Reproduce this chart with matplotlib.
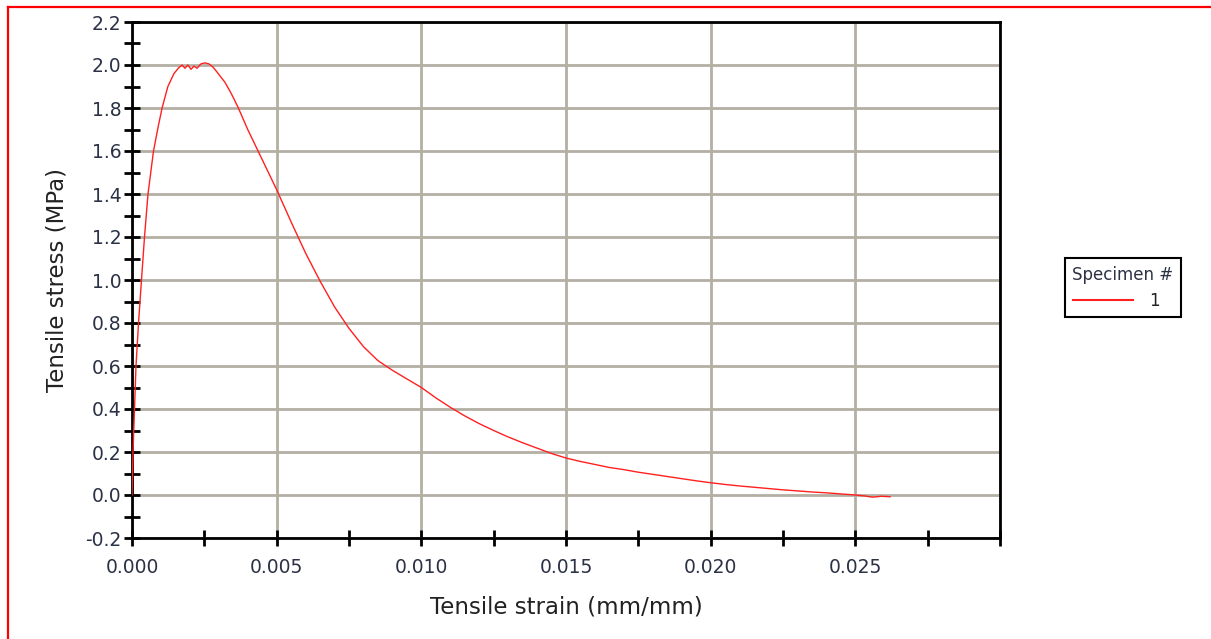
import matplotlib
matplotlib.use("Agg")
import matplotlib.pyplot as plt
from matplotlib.lines import Line2D
from matplotlib.ticker import MultipleLocator, FormatStrFormatter

plt.rcParams['font.family'] = ['DejaVu Sans']
plt.rcParams['axes.unicode_minus'] = False

# Specimen 1 stress-strain record
strain = [0.0, 0.0000346, 0.0000864, 0.000138, 0.000225, 0.000328, 0.000432,
          0.000553, 0.000743, 0.00090, 0.00104, 0.00124, 0.00145, 0.00160,
          0.00173, 0.00183, 0.00193, 0.00204, 0.00214, 0.00225, 0.00238,
          0.00252, 0.00266, 0.00280, 0.00294, 0.00321, 0.00342, 0.00366,
          0.0040, 0.0045, 0.0050, 0.0055, 0.0060, 0.0065, 0.0070, 0.0075,
          0.0080, 0.0085, 0.0090, 0.0095, 0.0100, 0.0105, 0.0110, 0.0115,
          0.0120, 0.0125, 0.0130, 0.0135, 0.0140, 0.0145, 0.0150, 0.0155,
          0.0160, 0.0165, 0.0170, 0.0175, 0.0180, 0.0185, 0.0190, 0.0195,
          0.0200, 0.0205, 0.0210, 0.0215, 0.0220, 0.0225, 0.0230, 0.0235,
          0.0240, 0.0245, 0.0250, 0.0253, 0.0256, 0.0259, 0.0262]
stress = [0.0, 0.2, 0.4, 0.6, 0.8, 1.0, 1.2,
          1.4, 1.6, 1.71, 1.8, 1.9, 1.96, 1.985,
          2.0, 1.985, 2.0, 1.98, 1.995, 1.985, 2.005,
          2.01, 2.005, 1.99, 1.967, 1.92, 1.87, 1.805,
          1.70, 1.56, 1.42, 1.27, 1.125, 0.995, 0.875, 0.775,
          0.69, 0.625, 0.58, 0.54, 0.50, 0.452, 0.408, 0.368,
          0.332, 0.30, 0.27, 0.243, 0.218, 0.193, 0.172, 0.156,
          0.142, 0.128, 0.118, 0.106, 0.096, 0.086, 0.076, 0.066,
          0.057, 0.049, 0.042, 0.036, 0.030, 0.024, 0.019, 0.014,
          0.010, 0.005, 0.0, -0.004, -0.010, -0.006, -0.008]

specimen_label = "1"
legend_title = "Specimen #"
x_label = "Tensile strain (mm/mm)"
y_label = "Tensile stress (MPa)"

W, H = 1211, 639
fig = plt.figure(figsize=(W / 100, H / 100), dpi=100)
ax = fig.add_axes([132 / W, 1 - 538 / H, (1000 - 132) / W, (538 - 22) / H])

grid_color = "#b3afa2"
tick_color = "#2b3245"

ax.plot(strain, stress, color="#ff2020", lw=1.0, zorder=3)

ax.set_xlim(0, 0.030)
ax.set_ylim(-0.2, 2.2)
ax.xaxis.set_major_locator(MultipleLocator(0.005))
ax.xaxis.set_minor_locator(MultipleLocator(0.0025))
ax.yaxis.set_major_locator(MultipleLocator(0.2))
ax.yaxis.set_minor_locator(MultipleLocator(0.1))
ax.yaxis.set_major_formatter(FormatStrFormatter('%.1f'))

ax.grid(True, which='major', color=grid_color, lw=2.0, zorder=0)
ax.set_axisbelow(True)

for sp in ax.spines.values():
    sp.set_color("black")
    sp.set_linewidth(2.0)

ax.tick_params(which='both', direction='inout', color='black', width=2.0,
               labelcolor=tick_color, labelsize=13.5)
ax.tick_params(which='both', length=11)
ax.tick_params(axis='x', which='major', pad=9)
ax.tick_params(axis='y', which='major', pad=2)

# x tick labels, leaving the right end unlabelled
xt = ax.get_xticks()
ax.set_xticks(xt)
ax.set_xticklabels([("" if t > 0.0299 else f"{t:.3f}") for t in xt])
ax.set_xlim(0, 0.030)

ax.set_xlabel(x_label, fontsize=16.5, color="#222222", labelpad=13)
ax.set_ylabel(y_label, fontsize=16.5, color="#222222", labelpad=12)

handle = Line2D([], [], color="#ff2020", lw=1.5)
leg = fig.legend([handle], [specimen_label], title=legend_title,
                 loc='upper left', bbox_to_anchor=(1065 / W, 1 - 258 / H),
                 borderaxespad=0, fontsize=12, title_fontsize=12,
                 fancybox=False, edgecolor='black', framealpha=1,
                 handlelength=3.6, handletextpad=1.0, borderpad=0.45,
                 alignment='left')
leg.get_frame().set_linewidth(1.5)
leg.get_title().set_color(tick_color)
for t in leg.get_texts():
    t.set_color("#222222")

# outer red frame
fig.add_artist(Line2D([7.5 / W, 1.0], [1 - 6.5 / H, 1 - 6.5 / H],
                      transform=fig.transFigure, color="red", lw=1.6))
fig.add_artist(Line2D([7.5 / W, 7.5 / W], [0.0, 1 - 6.5 / H],
                      transform=fig.transFigure, color="red", lw=1.6))

fig.savefig("out.png", dpi=100)
